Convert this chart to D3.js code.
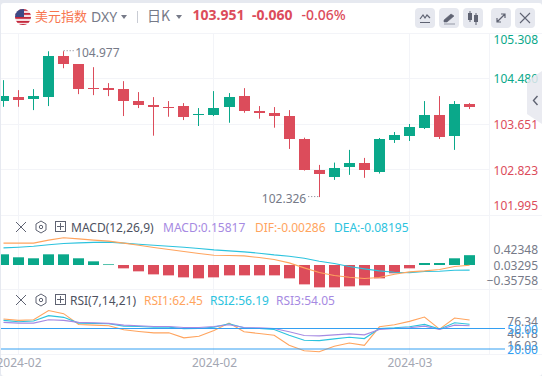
<!DOCTYPE html>
<html>
<head>
<meta charset="utf-8">
<script src="https://cdn.jsdelivr.net/npm/d3@7"></script>
<style>
  html, body { margin: 0; padding: 0; background: #fff; }
  svg { display: block; }
  text { font-family: "Noto Sans", "Noto Sans CJK SC", sans-serif; }
  .axis text { font-size: 12px; font-family: "Noto Sans", sans-serif; }
</style>
</head>
<body>
<svg class="chart"></svg>
<script>
const svgWidth = 542;
const svgHeight = 376;

const upColor = "#0aa88a";
const downColor = "#dc4c5b";
const gridColor = "#f3f4f8";
const textGrey = "#767a88";
const orange = "#ffa45e";
const cyan = "#2cc3de";
const purple = "#a68ae2";
const blue = "#339ff2";

// candles
const opens = [104.076,104.143,104.107,104.143,104.886,104.741,104.306,104.306,104.288,104.071,103.998,103.962,103.980,103.817,103.817,103.962,104.161,103.889,103.859,103.799,103.382,102.826,102.694,102.875,102.947,102.784,103.364,103.437,103.581,103.817,103.437,104.011];
const closes = [104.161,104.089,104.161,104.886,104.741,104.288,104.288,104.270,104.071,103.998,103.962,103.944,103.781,103.835,103.944,104.143,103.889,103.853,103.804,103.382,102.826,102.754,102.857,102.947,102.821,103.382,103.455,103.600,103.817,103.418,104.016,103.951];
const highs = [104.451,104.270,104.288,104.976,104.977,104.741,104.687,104.397,104.433,104.234,104.143,104.071,104.034,103.944,104.252,104.216,104.306,103.980,103.962,103.907,103.406,102.911,102.953,103.184,103.038,103.400,103.509,103.654,104.071,104.161,104.071,104.034];
const lows = [103.967,103.967,103.907,103.980,104.668,104.197,104.179,104.161,103.799,103.944,103.442,103.786,103.726,103.618,103.799,103.677,103.859,103.750,103.587,103.201,102.808,102.326,102.639,102.730,102.676,102.754,103.310,103.346,103.563,103.382,103.184,103.926];

// MACD pane
const macdBars = [0.172,0.124,0.108,0.172,0.172,0.108,0.059,0.011,-0.054,-0.102,-0.151,-0.167,-0.199,-0.215,-0.199,-0.167,-0.167,-0.167,-0.167,-0.215,-0.312,-0.360,-0.360,-0.344,-0.328,-0.215,-0.134,-0.054,0.032,0.032,0.108,0.15817];
const difValues = [0.352,0.352,0.352,0.400,0.438,0.421,0.400,0.384,0.352,0.319,0.282,0.249,0.217,0.185,0.158,0.153,0.147,0.120,0.088,0.034,-0.046,-0.122,-0.170,-0.197,-0.218,-0.202,-0.148,-0.111,-0.095,-0.073,-0.025,-0.00286];
const deaValues = [0.276,0.287,0.303,0.325,0.346,0.357,0.365,0.368,0.352,0.335,0.319,0.303,0.287,0.266,0.244,0.228,0.212,0.190,0.163,0.142,0.110,0.061,0.024,-0.025,-0.062,-0.095,-0.116,-0.122,-0.105,-0.100,-0.084,-0.08195];

// RSI pane
const rsi1Values = [63.84,61.87,62.86,76.34,71.72,55.96,54.98,53.99,48.08,45.62,43.65,43.65,36.26,38.72,47.09,57.93,45.12,42.66,40.2,25.42,17.54,16.03,23.94,28.87,25.42,52.51,55.47,60.39,66.80,49.06,65.32,62.45];
const rsi2Values = [61.87,59.9,60.89,68.77,66.31,57.93,57.44,56.95,53.5,53.0,52.02,52.02,49.56,50.05,52.02,56.95,51.03,50.05,48.57,40.2,32.81,32.32,34.78,37.24,35.27,50.05,51.03,52.51,55.96,49.06,58.42,56.19];
const rsi3Values = [58.92,57.93,57.93,62.86,61.87,58.92,58.42,57.44,54.98,53.99,53.0,53.0,51.53,51.53,53.0,55.47,51.53,51.03,50.05,45.12,39.7,39.21,40.69,42.17,40.69,48.57,50.05,51.03,53.5,48.57,54.98,54.05];

// tick labels
const priceTicks = [105.308,104.480,103.651,102.823,101.995];
const macdTicks = [0.42348,0.03295,-0.35758];
const rsiTicks = [76.34,46.18,16.03];
const rsiLevels = [50,20];
const dateTickIndex = [1,14,27];
const dateTickLabels = ["2024-02","2024-02","2024-03"];

const svg = d3.select(".chart").attr("width", svgWidth).attr("height", svgHeight);

const plotRight = 489;
const paneTop = 33, rsiBottom = 354.5;
const indexes = d3.range(opens.length);

const x = d3.scaleLinear().domain([0, 31]).range([3.5, 469.6]);
const yPrice = d3.scaleLinear().domain([101.995, 105.308]).range([215.3, 33]);
const yMacd = d3.scaleLinear().domain([0, 0.42348]).range([265, 238.7]);
const yMacdLabel = d3.scaleLinear().domain([-0.35758, 0.42348]).range([280.5, 250]);
const yRsi = d3.scaleLinear().domain([20, 50]).range([349, 328.5]);
const yRsiLevelLabel = d3.scaleLinear().domain([20, 50]).range([349.5, 329.5]);
const yRsiLabel = d3.scaleLinear().domain([16.03, 76.34]).range([345.5, 322]);

// background frame
svg.append("rect").attr("width", svgWidth).attr("height", svgHeight).attr("fill", "#e6e9f0");
svg.append("rect").attr("x", 1).attr("y", 3).attr("width", svgWidth - 1).attr("height", svgHeight - 3)
  .attr("rx", 3).attr("fill", "#fff");

// grid
const grid = svg.append("g").attr("stroke", gridColor).attr("stroke-width", 1);
dateTickIndex.forEach(function(d) {
  const gx = Math.floor(x(d)) + 0.5;
  grid.append("line").attr("x1", gx).attr("x2", gx).attr("y1", paneTop).attr("y2", rsiBottom);
});
grid.append("line").attr("x1", plotRight + 0.5).attr("x2", plotRight + 0.5).attr("y1", paneTop).attr("y2", rsiBottom);
[33.5, 215.5, 289.5, 354.5].forEach(function(gy) {
  grid.append("line").attr("x1", 1).attr("x2", svgWidth).attr("y1", gy).attr("y2", gy);
});
priceTicks.slice(1, 4).forEach(function(d) {
  const gy = Math.floor(yPrice(d)) + 0.5;
  grid.append("line").attr("x1", 1).attr("x2", plotRight).attr("y1", gy).attr("y2", gy);
});

svg.append("clipPath").attr("id", "plotClip").append("rect")
  .attr("x", 1).attr("y", 33).attr("width", plotRight - 1).attr("height", 322);
const plot = svg.append("g").attr("clip-path", "url(#plotClip)");

function candleColor(i) { return closes[i] >= opens[i] ? upColor : downColor; }

// candles
const candles = plot.append("g").selectAll("g").data(indexes).join("g")
  .attr("fill", candleColor);
candles.append("rect")
  .attr("x", function(i) { return Math.floor(x(i)); })
  .attr("width", 1)
  .attr("y", function(i) { return yPrice(highs[i]); })
  .attr("height", function(i) { return yPrice(lows[i]) - yPrice(highs[i]); });
candles.append("rect")
  .attr("x", function(i) { return Math.floor(x(i)) - 5; })
  .attr("width", 11)
  .attr("y", function(i) { return Math.round(yPrice(Math.max(opens[i], closes[i]))); })
  .attr("height", function(i) {
    return Math.max(1, Math.round(Math.abs(yPrice(opens[i]) - yPrice(closes[i]))));
  });

// high / low markers
const highIndex = highs.indexOf(d3.max(highs));
const lowIndex = lows.indexOf(d3.min(lows));
svg.append("line")
  .attr("x1", x(highIndex)).attr("x2", x(highIndex) + 10)
  .attr("y1", yPrice(highs[highIndex]) - 0.5).attr("y2", yPrice(highs[highIndex]) - 0.5)
  .attr("stroke", textGrey).attr("stroke-dasharray", "1 2");
svg.append("text").text(d3.max(highs).toFixed(3))
  .attr("x", x(highIndex) + 11.5).attr("y", yPrice(highs[highIndex]) + 5.5)
  .attr("font-size", 12).attr("fill", textGrey);
svg.append("line")
  .attr("x1", x(lowIndex) - 11).attr("x2", x(lowIndex))
  .attr("y1", yPrice(lows[lowIndex]) - 0.5).attr("y2", yPrice(lows[lowIndex]) - 0.5)
  .attr("stroke", textGrey).attr("stroke-dasharray", "1 2");
svg.append("text").text(d3.min(lows).toFixed(3))
  .attr("x", x(lowIndex) - 13).attr("y", yPrice(lows[lowIndex]) + 6)
  .attr("text-anchor", "end")
  .attr("font-size", 12).attr("fill", textGrey);

// macd bars
plot.append("g").selectAll("rect").data(indexes).join("rect")
  .attr("x", function(i) { return Math.floor(x(i)) - 5; })
  .attr("width", 11)
  .attr("y", function(i) { return Math.min(yMacd(0), yMacd(macdBars[i])); })
  .attr("height", function(i) { return Math.max(0.7, Math.abs(yMacd(macdBars[i]) - yMacd(0))); })
  .attr("fill", function(i) { return macdBars[i] >= 0 ? upColor : downColor; });

function drawLine(values, scale, color) {
  plot.append("path")
    .datum(values)
    .attr("fill", "none")
    .attr("stroke", color)
    .attr("stroke-width", 1.1)
    .attr("d", d3.line()
      .x(function(d, i) { return x(i); })
      .y(function(d) { return scale(d); }));
}
drawLine(deaValues, yMacd, cyan);
drawLine(difValues, yMacd, orange);

drawLine(rsi1Values, yRsi, orange);
drawLine(rsi2Values, yRsi, cyan);
drawLine(rsi3Values, yRsi, purple);

// rsi levels
svg.append("g").selectAll("line").data(rsiLevels).join("line")
  .attr("x1", 1).attr("x2", 505)
  .attr("y1", function(d) { return yRsi(d); })
  .attr("y2", function(d) { return yRsi(d); })
  .attr("stroke", blue).attr("stroke-width", 1);

// axes
const axisRightEdge = 538;
function rightAxis(scale, ticks, fmt, color) {
  const g = svg.append("g").attr("class", "axis")
    .attr("transform", "translate(" + axisRightEdge + ",0)")
    .call(d3.axisLeft(scale).tickValues(ticks).tickFormat(fmt).tickSize(0).tickPadding(0));
  g.select(".domain").remove();
  g.selectAll("text").attr("fill", color);
  return g;
}

const priceAxis = rightAxis(yPrice, priceTicks, d3.format(".3f"), upColor);
priceAxis.selectAll("text").attr("fill", function(d) { return d > 104 ? upColor : downColor; });
// top and bottom labels are pushed inside the pane
priceAxis.selectAll(".tick").attr("transform", function(d) {
  return "translate(0," + Math.min(206.5, Math.max(40.5, yPrice(d) + 1)) + ")";
});
rightAxis(yMacdLabel, macdTicks, d3.format(".5f"), textGrey);
rightAxis(yRsiLabel, rsiTicks, d3.format(".2f"), textGrey);
rightAxis(yRsiLevelLabel, rsiLevels, d3.format(".2f"), blue);

const dateAxis = svg.append("g").attr("class", "axis")
  .attr("transform", "translate(0,358.5)")
  .call(d3.axisBottom(x).tickValues(dateTickIndex)
    .tickFormat(function(d, i) { return dateTickLabels[i]; })
    .tickSize(0).tickPadding(0));
dateAxis.select(".domain").remove();
dateAxis.selectAll("text").attr("fill", "#a3a7b3");

// header
function label(text, lx, ly, size, color, weight) {
  return svg.append("text").text(text).attr("x", lx).attr("y", ly)
    .attr("font-size", size).attr("fill", color).attr("font-weight", weight || 400);
}

svg.append("clipPath").attr("id", "flagClip").append("circle").attr("cx", 23).attr("cy", 17).attr("r", 8);
const flag = svg.append("g").attr("clip-path", "url(#flagClip)");
flag.append("rect").attr("x", 15).attr("y", 9).attr("width", 16).attr("height", 16).attr("fill", "#f6dfe2");
[9, 13, 17, 21, 24].forEach(function(sy) {
  flag.append("rect").attr("x", 15).attr("y", sy).attr("width", 16).attr("height", 1.8).attr("fill", "#c4283c");
});
flag.append("rect").attr("x", 15).attr("y", 9).attr("width", 9).attr("height", 8).attr("fill", "#3d4a86");

label("美元指数", 35, 21, 13, "#f7764f").style("font-family", '"Noto Sans CJK SC"');
label("DXY", 91, 22, 14, textGrey);
label("日K", 147, 21, 14, textGrey).style("font-family", '"Noto Sans CJK SC"');
svg.append("path").attr("d", "M121 15h6l-3 4zM176 15h6l-3 4z").attr("fill", textGrey);
svg.append("rect").attr("x", 137).attr("y", 11).attr("width", 1).attr("height", 12).attr("fill", "#c9ccd4");

label("103.951", 192.5, 20, 14, downColor, 700);
label("-0.060", 252, 20, 14, downColor, 700);
label("-0.06%", 301.5, 20, 14, downColor, 500);

// toolbar buttons
const buttons = svg.append("g");
[415, 439, 463, 491, 515].forEach(function(bx) {
  buttons.append("rect").attr("x", bx).attr("y", 8).attr("width", 20).attr("height", 20)
    .attr("rx", 4).attr("fill", "#e6e8ef");
});
buttons.append("path").attr("d", "M420 19l3-4 2 3 2-3 3 3M420 22.5h10")
  .attr("fill", "none").attr("stroke", "#5f6372").attr("stroke-width", 1.2);
buttons.append("path").attr("d", "M444 20l7-6 3 2-7 6h-3zM444 24h11").attr("fill", "#5f6372").attr("stroke", "#5f6372").attr("stroke-width", 0.6);
buttons.append("path").attr("d", "M468 13h4v7h-4zM469.5 11h1v11h-1zM474 15h4v7h-4zM475.5 13h1v12h-1z").attr("fill", "#5f6372");
buttons.append("path").attr("d", "M497 22l8-8M501 14h4v4M497 18v4h4")
  .attr("fill", "none").attr("stroke", "#5f6372").attr("stroke-width", 1.2);
buttons.append("path").attr("d", "M520 13l10 10M530 13l-10 10")
  .attr("fill", "none").attr("stroke", "#5f6372").attr("stroke-width", 1.1);

// side handle over the axis
svg.append("path").attr("d", "M527 81L542 71V124L527 114Z").attr("fill", "#e6e8ef").attr("opacity", 0.85);
svg.append("path").attr("d", "M537.5 96l-4 4.5 4 4.5").attr("fill", "none").attr("stroke", "#5f6372").attr("stroke-width", 1.4);

// pane headers
function paneIcons(cy) {
  const g = svg.append("g").attr("fill", "none").attr("stroke", "#5f6372");
  g.append("path").attr("d", "M16 " + (cy - 5) + "l10 10M26 " + (cy - 5) + "l-10 10");
  g.append("path").attr("d", "M41 " + (cy - 6) + "l5 3v6l-5 3-5-3v-6z");
  g.append("circle").attr("cx", 41).attr("cy", cy).attr("r", 1.7);
  g.append("rect").attr("x", 55.5).attr("y", cy - 5.5).attr("width", 10).attr("height", 10);
  g.append("path").attr("d", "M60.5 " + (cy - 4) + "v7M57 " + (cy - 0.5) + "h7");
}
paneIcons(227);
paneIcons(300);

label("MACD(12,26,9)", 71, 231.5, 12, "#4d5160");
label("MACD:0.15817", 163, 231.5, 12, purple);
label("DIF:-0.00286", 255, 231.5, 12, orange);
label("DEA:-0.08195", 334, 231.5, 12, cyan);

label("RSI(7,14,21)", 70, 304.5, 12, "#4d5160");
label("RSI1:62.45", 144, 304.5, 12, orange);
label("RSI2:56.19", 210, 304.5, 12, cyan);
label("RSI3:54.05", 276, 304.5, 12, purple);
</script>
</body>
</html>
